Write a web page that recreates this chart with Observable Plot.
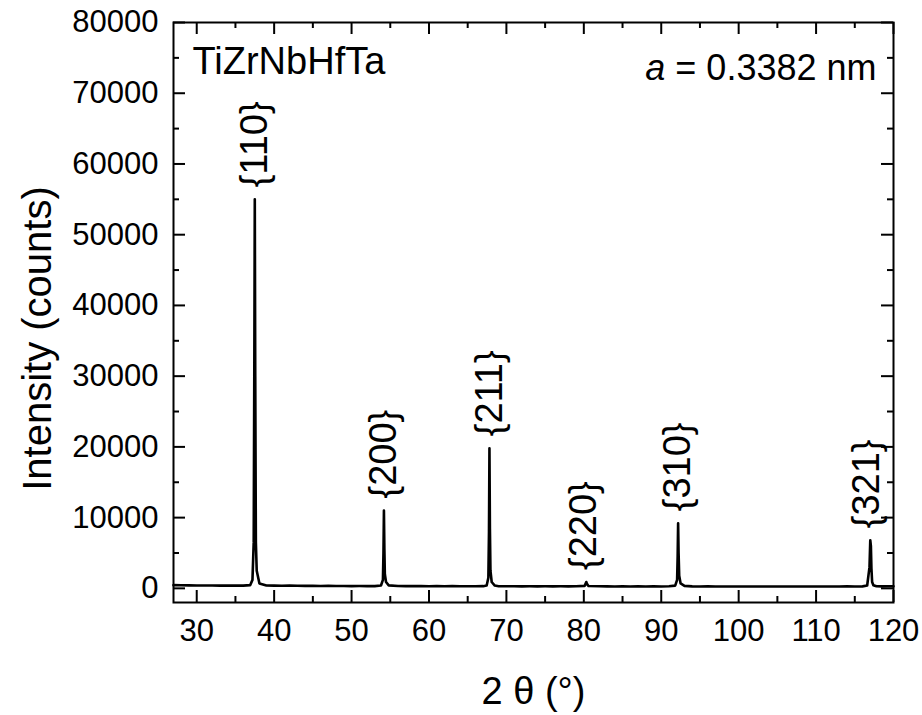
<!DOCTYPE html>
<html>
<head>
<meta charset="utf-8">
<script src="https://cdn.jsdelivr.net/npm/d3@7"></script>
<script src="https://cdn.jsdelivr.net/npm/@observablehq/plot@0.6"></script>
<style>
  html, body { margin: 0; padding: 0; background: white; }
  #chart { width: 922px; height: 715px; }
</style>
</head>
<body>
<div id="chart"></div>
<script>
// ---- Data ----
const twoTheta = [
  27.0, 28.0, 29.0, 30.0, 31.0, 32.0, 33.0, 34.0, 35.0, 36.0, 36.9,
  37.2, 37.36, 37.44, 37.5, 37.56, 37.64, 37.75, 38.1,
  39.0, 40.0, 41.0, 42.0, 43.0, 44.0, 45.0, 46.0, 47.0, 48.0, 49.0, 50.0, 51.0, 52.0, 53.0, 53.8,
  54.05, 54.12, 54.18, 54.24, 54.3, 54.45, 54.8,
  56.0, 57.0, 58.0, 59.0, 60.0, 61.0, 62.0, 63.0, 64.0, 65.0, 66.0, 67.0, 67.45,
  67.67, 67.75, 67.81, 67.87, 67.94, 68.1, 68.5,
  69.0, 70.0, 71.0, 72.0, 73.0, 74.0, 75.0, 76.0, 77.0, 78.0, 79.0, 80.1,
  80.25, 80.32, 80.42, 80.6,
  82.0, 83.0, 84.0, 85.0, 86.0, 87.0, 88.0, 89.0, 90.0, 91.0, 91.8,
  92.05, 92.12, 92.18, 92.24, 92.32, 92.5, 93.0,
  94.0, 95.0, 96.0, 97.0, 98.0, 99.0, 100.0, 101.0, 102.0, 103.0, 104.0, 105.0, 106.0, 107.0,
  108.0, 109.0, 110.0, 111.0, 112.0, 113.0, 114.0, 115.0, 116.0, 116.6,
  116.9, 117.0, 117.08, 117.15, 117.24, 117.4, 117.8,
  118.5, 119.2, 120.0
];
const counts = [
  450, 430, 420, 410, 400, 400, 390, 390, 380, 380, 450,
  1200, 6500, 32000, 55000, 30000, 6500, 2500, 700,
  400, 380, 370, 380, 360, 350, 370, 340, 350, 330, 340, 320, 330, 320, 310, 400,
  1200, 5000, 11000, 5500, 2000, 900, 420,
  330, 320, 310, 320, 300, 310, 300, 310, 300, 290, 300, 310, 400,
  1500, 8000, 19800, 8500, 2500, 900, 400,
  300, 290, 300, 280, 290, 280, 290, 280, 290, 280, 300, 350,
  700, 900, 600, 330,
  290, 280, 270, 280, 270, 280, 270, 280, 270, 290, 380,
  1200, 4500, 9200, 5000, 1800, 700, 350,
  280, 270, 280, 270, 260, 270, 260, 270, 260, 270, 260, 270, 260, 270,
  260, 270, 260, 270, 260, 270, 280, 270, 280, 400,
  3000, 6800, 6000, 2800, 900, 450, 300,
  280, 290, 300
];

const peakLabels = ["{110}", "{200}", "{211}", "{220}", "{310}", "{321}"];
const peakPos    = [37.5, 54.2, 67.8, 80.0, 92.1, 116.5];
const peakHeight = [55000, 11000, 19800, 900, 9200, 6800];

const xMajor = [30, 40, 50, 60, 70, 80, 90, 100, 110, 120];
const xMinor = [35, 45, 55, 65, 75, 85, 95, 105, 115];
const yMajor = [0, 10000, 20000, 30000, 40000, 50000, 60000, 70000, 80000];
const yMinor = [5000, 15000, 25000, 35000, 45000, 55000, 65000, 75000];

const sampleName = "TiZrNbHfTa";
const latticeText = "a = 0.3382 nm";
const xTitle = "2 θ (°)";
const yTitle = "Intensity (counts)";

// ---- Build table ----
const pattern = twoTheta.map((t, i) => ({t, c: counts[i]}));

const W = 922, H = 715;
const mL = 173, mR = 29, mT = 22, mB = 113;
const fw = W - mL - mR, fh = H - mT - mB;
const majorLen = 12, minorLen = 6;

const chart = Plot.plot({
  width: W, height: H,
  marginLeft: mL, marginRight: mR, marginTop: mT, marginBottom: mB,
  style: {fontFamily: "'Liberation Sans', Arial, sans-serif", fontSize: "31px", color: "black", background: "white", overflow: "visible"},
  x: {domain: [27, 120]},
  y: {domain: [-2000, 80000]},
  marks: [
    // data
    Plot.line(pattern, {x: "t", y: "c", stroke: "black", strokeWidth: 2.6}),
    // inward ticks
    Plot.tickX(xMajor, {x: d => d, insetTop: fh - majorLen, stroke: "black", strokeWidth: 2}),
    Plot.tickX(xMajor, {x: d => d, insetBottom: fh - majorLen, stroke: "black", strokeWidth: 2}),
    Plot.tickX(xMinor, {x: d => d, insetTop: fh - minorLen, stroke: "black", strokeWidth: 2}),
    Plot.tickX(xMinor, {x: d => d, insetBottom: fh - minorLen, stroke: "black", strokeWidth: 2}),
    Plot.tickY(yMajor, {y: d => d, insetRight: fw - majorLen, stroke: "black", strokeWidth: 2}),
    Plot.tickY(yMajor, {y: d => d, insetLeft: fw - majorLen, stroke: "black", strokeWidth: 2}),
    Plot.tickY(yMinor, {y: d => d, insetRight: fw - minorLen, stroke: "black", strokeWidth: 2}),
    Plot.tickY(yMinor, {y: d => d, insetLeft: fw - minorLen, stroke: "black", strokeWidth: 2}),
    // tick labels
    Plot.axisX({ticks: xMajor, tickSize: 0, tickPadding: 16, tickFormat: d3.format("d"), label: null, fontSize: 31}),
    Plot.axisY({ticks: yMajor, tickSize: 0, tickPadding: 15, tickFormat: d3.format("d"), label: null, fontSize: 31}),
    Plot.frame({stroke: "black", strokeWidth: 2}),
    // peak labels
    Plot.text(peakLabels, {x: (d, i) => peakPos[i], y: (d, i) => peakHeight[i], text: d => d,
      rotate: -90, textAnchor: "start", dy: -12, fontSize: 38, fill: "black"}),
    // annotations
    Plot.text([sampleName], {frameAnchor: "top-left", text: d => d, textAnchor: "start", lineAnchor: "top",
      dx: 19, dy: 25, fontSize: 38, fill: "black"}),
    Plot.text([latticeText], {frameAnchor: "top-right", text: d => d, textAnchor: "end", lineAnchor: "top",
      dx: -17, dy: 32, fontSize: 36, fill: "black"}),
    // axis titles
    Plot.text([xTitle], {frameAnchor: "bottom", text: d => d, textAnchor: "middle", lineAnchor: "top", dy: 75, fontSize: 38, fill: "black"}),
    Plot.text([yTitle], {frameAnchor: "left", text: d => d, textAnchor: "middle", rotate: -90, dx: -135, dy: 26, fontSize: 40, fill: "black"})
  ]
});

document.getElementById("chart").appendChild(chart);

// italic lattice parameter symbol
d3.select(chart).selectAll("text").filter(function() { return this.textContent === latticeText; })
  .each(function() {
    const t = d3.select(this);
    t.text(null).style("white-space", "pre");
    t.append("tspan").attr("font-style", "italic").text("a");
    t.append("tspan").text(" = 0.3382 nm");
  });
</script>
</body>
</html>
